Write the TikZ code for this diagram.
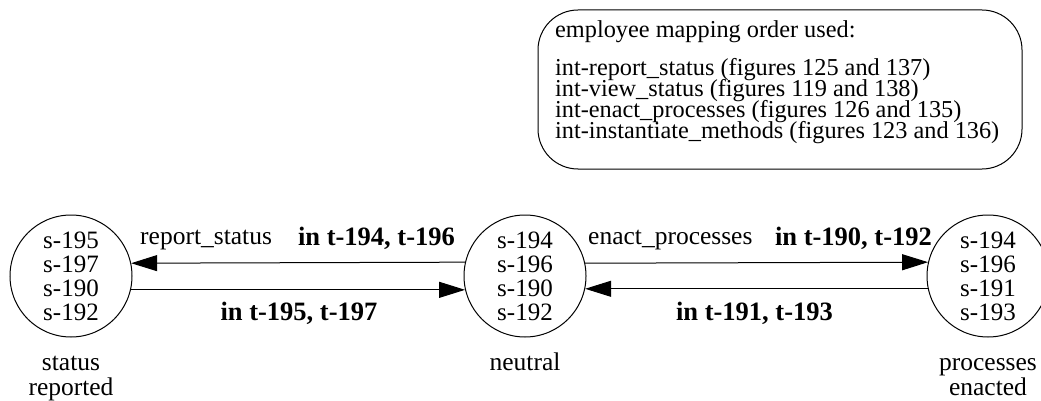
\documentclass[tikz,border=0pt]{standalone}
\usepackage{fontspec}
\setmainfont{Liberation Serif}
\usetikzlibrary{arrows.meta}
\begin{document}
\begin{tikzpicture}[x=1pt,y=-1pt,
  state/.style={circle,draw,line width=1pt,minimum size=122pt,inner sep=0pt,align=center,font=\fontsize{25}{24}\selectfont},
  lbl/.style={anchor=base,inner sep=0pt,font=\fontsize{25.5}{25}\selectfont},
  elbl/.style={anchor=base west,inner sep=0pt,font=\fontsize{25.5}{26}\selectfont},
  blbl/.style={anchor=base,inner sep=0pt,font=\fontsize{26.5}{28}\selectfont\bfseries},
  edge/.style={line width=1pt,-{Triangle[length=26pt,width=16pt]}},
  notetext/.style={anchor=base west,align=left,inner sep=0pt,text height=15pt,text depth=3pt,font=\fontsize{24.3}{21}\selectfont}]
\useasboundingbox (0,0) rectangle (1041,401);
\node[state] (sr) at (71,276) {s-195\\s-197\\s-190\\s-192};
\node[state] (ne) at (525,276) {s-194\\s-196\\s-190\\s-192};
\node[state] (pe) at (988,276) {s-194\\s-196\\s-191\\s-193};
\node[lbl] (srl1) at (71,370) {status};
\node[lbl] (srl2) at (71,395) {reported};
\node[lbl] (nel) at (525,370) {neutral};
\node[lbl] (pel1) at (988,370) {processes};
\node[lbl] (pel2) at (988,395) {enacted};
\draw[edge] (ne.167.7) -- (sr.12.3);
\draw[edge] (sr.-13.3) -- (ne.193.3);
\draw[edge] (ne.12.3) -- (pe.167.7);
\draw[edge] (pe.192.3) -- (ne.-12.3);
\node[elbl] (rs) at (140,244) {report\_status};
\node[blbl] (b1) at (376.5,245) {in t-194, t-196};
\node[blbl] (b2) at (299,320) {in t-195, t-197};
\node[elbl] (ep) at (588,244) {enact\_processes};
\node[blbl] (b3) at (853.5,245) {in t-190, t-192};
\node[blbl] (b4) at (754.5,320) {in t-191, t-193};
\draw[line width=1pt,rounded corners=40pt] (538,10) rectangle (1022,169);
\node[notetext] (n1) at (555,38) {employee mapping order used:};
\node[notetext] (n2) at (555,76) {int-report\_status (figures 125 and 137)};
\node[notetext] (n3) at (555,97) {int-view\_status (figures 119 and 138)};
\node[notetext] (n4) at (555,118) {int-enact\_processes (figures 126 and 135)};
\node[notetext] (n5) at (555,139) {int-instantiate\_methods (figures 123 and 136)};
\end{tikzpicture}
\end{document}
